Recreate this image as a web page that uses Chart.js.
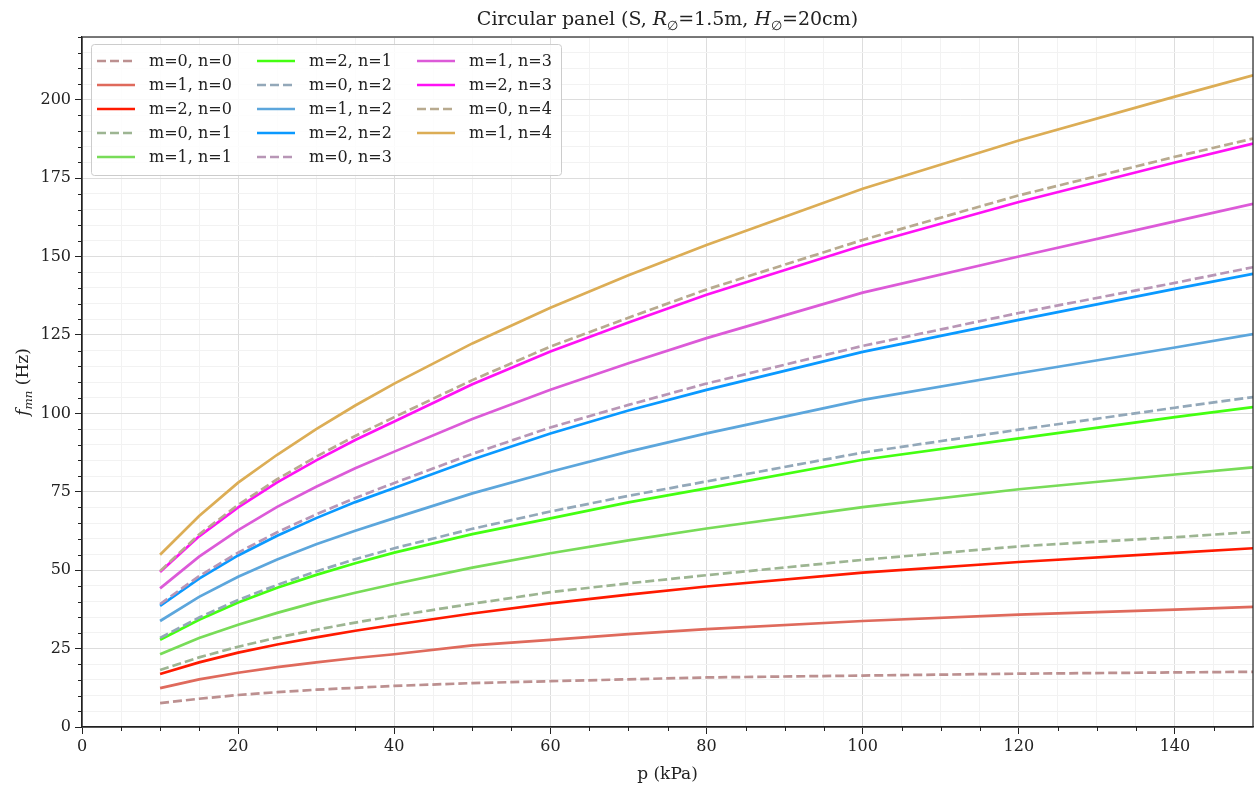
<!DOCTYPE html>
<html>
<head>
<meta charset="utf-8">
<script src="https://cdn.jsdelivr.net/npm/chart.js@4.4.0/dist/chart.umd.min.js"></script>
<style>
  html, body { margin: 0; padding: 0; background: #fff; }
  #wrap { width: 1257px; height: 788px; position: relative; }
</style>
</head>
<body>
<div id="wrap"><canvas id="panelChart"></canvas></div>
<script>
// pressure values (kPa)
const pressures = [10, 15, 20, 25, 30, 35, 40, 50, 60, 70, 80, 100, 120, 140, 150];

// natural frequencies (Hz)
const f_m0_n0 = [7.6, 9.0, 10.2, 11.1, 11.9, 12.5, 13.1, 14.0, 14.6, 15.2, 15.8, 16.4, 17.0, 17.4, 17.6];
const f_m1_n0 = [12.4, 15.2, 17.3, 19.1, 20.6, 22.0, 23.2, 26.0, 27.8, 29.6, 31.2, 33.8, 35.8, 37.4, 38.3];
const f_m2_n0 = [16.9, 20.6, 23.7, 26.3, 28.6, 30.7, 32.6, 36.2, 39.4, 42.2, 44.8, 49.2, 52.6, 55.5, 57.0];
const f_m0_n1 = [18.2, 22.2, 25.6, 28.5, 31.0, 33.3, 35.4, 39.3, 43.0, 45.8, 48.4, 53.3, 57.6, 60.5, 62.2];
const f_m1_n1 = [23.2, 28.4, 32.6, 36.4, 39.8, 42.8, 45.6, 50.8, 55.4, 59.5, 63.3, 70.1, 75.8, 80.5, 82.8];
const f_m2_n1 = [27.8, 34.2, 39.7, 44.4, 48.5, 52.2, 55.6, 61.5, 66.5, 71.6, 76.1, 85.2, 92.0, 98.8, 102.0];
const f_m0_n2 = [28.4, 34.9, 40.5, 45.3, 49.6, 53.5, 57.0, 63.2, 68.7, 73.7, 78.3, 87.5, 94.8, 101.8, 105.2];
const f_m1_n2 = [33.8, 41.5, 47.9, 53.4, 58.3, 62.6, 66.6, 74.5, 81.4, 87.8, 93.6, 104.3, 112.8, 121.0, 125.3];
const f_m2_n2 = [38.6, 47.3, 54.7, 61.0, 66.6, 71.7, 76.2, 85.3, 93.6, 100.9, 107.5, 119.6, 129.8, 139.7, 144.5];
const f_m0_n3 = [39.2, 48.1, 55.6, 62.1, 67.8, 73.0, 77.8, 87.1, 95.5, 102.7, 109.5, 121.5, 132.0, 141.6, 146.6];
const f_m1_n3 = [44.2, 54.3, 62.8, 70.2, 76.6, 82.5, 87.8, 98.2, 107.5, 116.0, 124.0, 138.5, 150.0, 161.2, 166.8];
const f_m2_n3 = [49.4, 60.8, 70.0, 78.0, 85.0, 91.5, 97.4, 109.3, 119.7, 129.0, 137.8, 153.5, 167.4, 180.0, 186.0];
const f_m0_n4 = [49.7, 61.4, 70.8, 79.0, 86.2, 92.8, 98.8, 110.6, 121.3, 130.5, 139.5, 155.3, 169.5, 181.8, 187.6];
const f_m1_n4 = [54.9, 67.3, 77.9, 86.8, 95.0, 102.5, 109.5, 122.3, 133.7, 144.0, 153.7, 171.6, 187.0, 201.0, 207.8];

const seriesLabels = ['m=0, n=0', 'm=1, n=0', 'm=2, n=0', 'm=0, n=1', 'm=1, n=1', 'm=2, n=1', 'm=0, n=2',
                      'm=1, n=2', 'm=2, n=2', 'm=0, n=3', 'm=1, n=3', 'm=2, n=3', 'm=0, n=4', 'm=1, n=4'];
const seriesValues = [f_m0_n0, f_m1_n0, f_m2_n0, f_m0_n1, f_m1_n1, f_m2_n1, f_m0_n2,
                      f_m1_n2, f_m2_n2, f_m0_n3, f_m1_n3, f_m2_n3, f_m0_n4, f_m1_n4];
const seriesColors = ['#bc9090', '#df6a5c', '#ff1a00', '#9db592', '#78dc58', '#44ff11', '#93a8b9',
                      '#5ca6dc', '#0a99ff', '#b896b6', '#dc5ad8', '#ff11f5', '#b8aa8f', '#dcad55'];

const FONT = '"DejaVu Serif", serif';
const DASH = [9, 4];

const datasets = seriesLabels.map((label, i) => ({
    label: label,
    data: pressures.map((p, j) => ({ x: p, y: seriesValues[i][j] })),
    borderColor: seriesColors[i],
    backgroundColor: seriesColors[i],
    borderWidth: 2.7,
    borderDash: label.startsWith('m=0') ? DASH : [],
    pointRadius: 0,
    tension: 0,
    fill: false,
    order: -i
}));

// draws pieces of text with italics / subscripts, returns total width
function drawRich(ctx, parts, x, y, size, measureOnly) {
    let cx = x;
    parts.forEach(p => {
        const s = p.sub ? size * 0.7 : size;
        ctx.font = (p.it ? 'italic ' : '') + s + 'px ' + FONT;
        if (!measureOnly) ctx.fillText(p.t, cx, y + (p.sub ? size * 0.25 : 0));
        cx += ctx.measureText(p.t).width;
    });
    return cx - x;
}

const decorPlugin = {
    id: 'decor',
    afterDraw(chart) {
        const ctx = chart.ctx;
        const a = chart.chartArea;
        const xs = chart.scales.x, ys = chart.scales.y;
        ctx.save();
        ctx.fillStyle = '#222';
        ctx.textBaseline = 'alphabetic';
        ctx.textAlign = 'left';

        // minor tick marks
        ctx.strokeStyle = '#222';
        ctx.lineWidth = 1;
        ctx.beginPath();
        for (let v = 5; v < 150; v += 5) {
            if (v % 20 === 0) continue;
            const px = Math.round(xs.getPixelForValue(v)) + 0.5;
            ctx.moveTo(px, a.bottom); ctx.lineTo(px, a.bottom + 4);
        }
        for (let v = 5; v <= 220; v += 5) {
            if (v % 25 === 0) continue;
            const py = Math.round(ys.getPixelForValue(v)) + 0.5;
            ctx.moveTo(a.left, py); ctx.lineTo(a.left - 4, py);
        }
        ctx.stroke();

        // frame
        ctx.lineWidth = 1.2;
        ctx.strokeRect(a.left, a.top, a.right - a.left, a.bottom - a.top);

        // title
        const titleParts = [
            { t: 'Circular panel (S, ' }, { t: 'R', it: true }, { t: '\u2205', sub: true },
            { t: '=1.5m, ' }, { t: 'H', it: true }, { t: '\u2205', sub: true }, { t: '=20cm)' }
        ];
        const tw = drawRich(ctx, titleParts, 0, 0, 19, true);
        drawRich(ctx, titleParts, (a.left + a.right) / 2 - tw / 2, 25, 19, false);

        // x axis title
        ctx.font = '17px ' + FONT;
        ctx.textAlign = 'center';
        ctx.fillText('p (kPa)', (a.left + a.right) / 2, 779);

        // y axis title
        const yParts = [{ t: 'f', it: true }, { t: 'mn', it: true, sub: true }, { t: ' (Hz)' }];
        ctx.textAlign = 'left';
        const yw = drawRich(ctx, yParts, 0, 0, 17, true);
        ctx.translate(28, (a.top + a.bottom) / 2);
        ctx.rotate(-Math.PI / 2);
        drawRich(ctx, yParts, -yw / 2, 0, 17, false);
        ctx.setTransform(1, 0, 0, 1, 0, 0);

        // legend, filled column by column
        const bx = 91, by = 44, bw = 470, bh = 131;
        ctx.beginPath();
        ctx.roundRect(bx + 0.5, by + 0.5, bw, bh, 3);
        ctx.fillStyle = 'rgba(255,255,255,0.85)';
        ctx.fill();
        ctx.strokeStyle = '#cccccc';
        ctx.lineWidth = 1;
        ctx.stroke();
        ctx.font = '16px ' + FONT;
        ctx.textBaseline = 'middle';
        chart.data.datasets.forEach((ds, i) => {
            const col = Math.floor(i / 5), row = i % 5;
            const x0 = 97 + col * 160, y0 = 61 + row * 24;
            ctx.beginPath();
            ctx.strokeStyle = ds.borderColor;
            ctx.lineWidth = ds.borderWidth;
            ctx.setLineDash(ds.borderDash);
            ctx.moveTo(x0, y0); ctx.lineTo(x0 + 38, y0);
            ctx.stroke();
            ctx.setLineDash([]);
            ctx.fillStyle = '#222';
            ctx.fillText(ds.label, x0 + 52, y0 + 1);
        });
        ctx.restore();
    }
};

const isMajorX = v => v % 20 === 0;
const isMajorY = v => v % 25 === 0;

new Chart(document.getElementById('panelChart'), {
    type: 'line',
    data: { datasets: datasets },
    options: {
        responsive: true,
        maintainAspectRatio: false,
        animation: false,
        layout: { padding: { left: 0, top: 37, right: 4, bottom: 21 } },
        plugins: { legend: { display: false }, tooltip: { enabled: false }, title: { display: false } },
        scales: {
            x: {
                type: 'linear', min: 0, max: 150,
                afterFit: s => { s.height = 40; },
                ticks: {
                    stepSize: 5, autoSkip: false, maxRotation: 0, padding: 3,
                    color: '#222', font: { family: FONT, size: 16 },
                    callback: v => isMajorX(v) ? v : ''
                },
                grid: {
                    color: c => c.tick && isMajorX(c.tick.value) ? '#dddddd' : '#f2f2f2',
                    tickColor: c => c.tick && isMajorX(c.tick.value) ? '#222' : 'rgba(0,0,0,0)',
                    tickLength: 7
                },
                border: { display: true, color: '#222', width: 1.2 }
            },
            y: {
                type: 'linear', min: 0, max: 220,
                afterFit: s => { s.width = 82; },
                ticks: {
                    stepSize: 5, autoSkip: false, padding: 4,
                    color: '#222', font: { family: FONT, size: 16 },
                    callback: v => isMajorY(v) ? v : ''
                },
                grid: {
                    color: c => c.tick && isMajorY(c.tick.value) ? '#dddddd' : '#f2f2f2',
                    tickColor: c => c.tick && isMajorY(c.tick.value) ? '#222' : 'rgba(0,0,0,0)',
                    tickLength: 7
                },
                border: { display: true, color: '#222', width: 1.2 }
            }
        }
    },
    plugins: [decorPlugin]
});
</script>
</body>
</html>
